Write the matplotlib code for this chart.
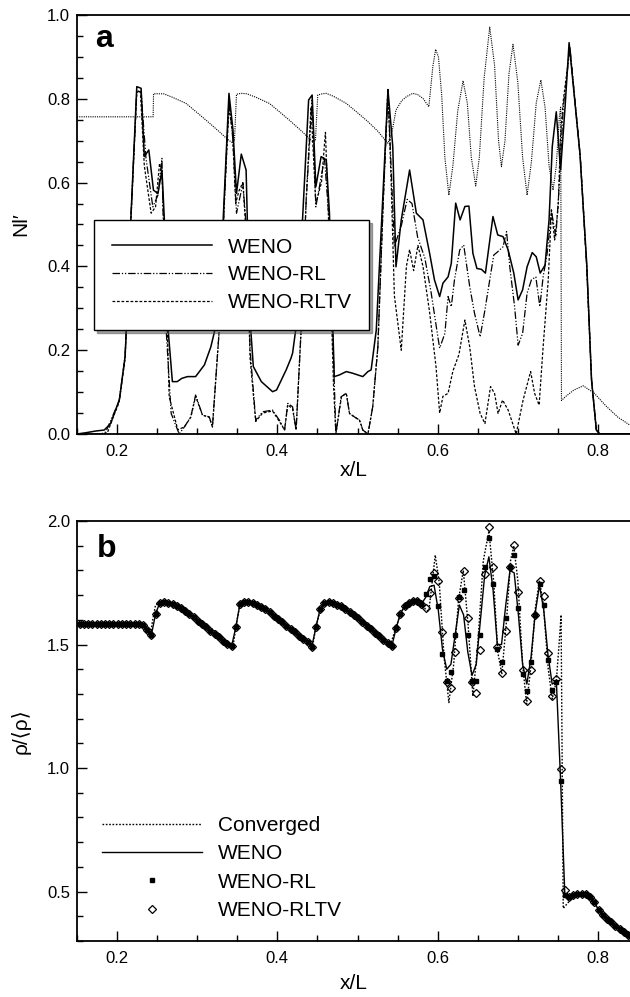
import matplotlib
matplotlib.use('Agg')
import matplotlib.pyplot as plt
import numpy as np
from matplotlib.ticker import MultipleLocator

plt.rcParams['font.family'] = ['Liberation Sans', 'DejaVu Sans']

# ---------------- panel a : Nl' ----------------
conv_a_x = [0.15, 0.245, 0.2455, 0.25, 0.258, 0.27, 0.286, 0.298, 0.311, 0.3275, 0.338, 0.344, 0.3465,
            0.349, 0.355, 0.362, 0.374, 0.39, 0.402, 0.415, 0.431, 0.441, 0.444, 0.4475,
            0.4504, 0.456, 0.461, 0.47, 0.486, 0.498, 0.511, 0.526, 0.535, 0.538,
            0.543, 0.548, 0.555, 0.561, 0.569, 0.575, 0.5817, 0.589, 0.594, 0.5975, 0.601, 0.605,
            0.609, 0.614, 0.619, 0.625, 0.6317, 0.637, 0.642, 0.6475, 0.652, 0.658, 0.665, 0.671,
            0.676, 0.6796, 0.684, 0.689, 0.694, 0.700, 0.706, 0.7116, 0.717, 0.723, 0.7288, 0.734,
            0.739, 0.744, 0.748, 0.752, 0.7535, 0.7545, 0.760, 0.770, 0.7817, 0.795, 0.811, 0.825, 0.84]
conv_a_y = [0.757, 0.757, 0.812, 0.812, 0.812, 0.803, 0.789, 0.770, 0.749, 0.7215, 0.703, 0.695, 0.70,
            0.811, 0.813, 0.812, 0.803, 0.789, 0.770, 0.749, 0.7215, 0.703, 0.698, 0.70,
            0.809, 0.812, 0.813, 0.806, 0.789, 0.770, 0.749, 0.7215, 0.70, 0.694,
            0.72, 0.773, 0.795, 0.805, 0.813, 0.81, 0.801, 0.781, 0.877, 0.918, 0.90, 0.81,
            0.66, 0.570, 0.64, 0.77, 0.843, 0.79, 0.66, 0.592, 0.66, 0.85, 0.971, 0.88,
            0.70, 0.638, 0.70, 0.86, 0.930, 0.84, 0.66, 0.570, 0.65, 0.79, 0.845, 0.78,
            0.64, 0.582, 0.64, 0.76, 0.78, 0.08, 0.09, 0.105, 0.115, 0.098, 0.065, 0.04, 0.021]

weno_a_x = [0.150, 0.161, 0.173, 0.184, 0.192, 0.203, 0.210, 0.2125, 0.2175, 0.2246, 0.230, 0.234,
            0.2396, 0.2454, 0.251, 0.256, 0.259, 0.2634, 0.269, 0.275, 0.281, 0.288, 0.298, 0.309,
            0.317, 0.323, 0.332, 0.3396, 0.3446, 0.349, 0.355, 0.361, 0.3654, 0.370, 0.380, 0.394,
            0.399, 0.411, 0.417, 0.419, 0.4234, 0.4316, 0.439, 0.4434, 0.448, 0.4546, 0.461, 0.465,
            0.471, 0.4775, 0.486, 0.494, 0.5066, 0.513, 0.517, 0.5234, 0.5316, 0.538, 0.544, 0.548,
            0.5546, 0.565, 0.5734, 0.5817, 0.590, 0.596, 0.6025, 0.6066, 0.613, 0.617, 0.6225,
            0.628, 0.634, 0.639, 0.644, 0.649, 0.6546, 0.6596, 0.669, 0.675, 0.6816, 0.688, 0.695,
            0.7004, 0.706, 0.7116, 0.718, 0.723, 0.728, 0.734, 0.739, 0.743, 0.748, 0.7534, 0.759,
            0.764, 0.7775, 0.786, 0.792, 0.798, 0.8025, 0.840]
weno_a_y = [0.0, 0.003, 0.007, 0.0095, 0.025, 0.083, 0.185, 0.288, 0.527, 0.829, 0.825, 0.662,
            0.678, 0.582, 0.574, 0.630, 0.511, 0.256, 0.125, 0.125, 0.133, 0.137, 0.137, 0.165,
            0.208, 0.256, 0.495, 0.813, 0.726, 0.574, 0.668, 0.630, 0.288, 0.161, 0.125, 0.101,
            0.105, 0.153, 0.181, 0.193, 0.256, 0.519, 0.797, 0.809, 0.590, 0.662, 0.654, 0.527,
            0.137, 0.141, 0.149, 0.145, 0.137, 0.149, 0.153, 0.248, 0.566, 0.821, 0.686, 0.399,
            0.511, 0.630, 0.527, 0.511, 0.431, 0.368, 0.328, 0.360, 0.375, 0.407, 0.551,
            0.511, 0.543, 0.544, 0.431, 0.395, 0.393, 0.384, 0.519, 0.475, 0.471, 0.439, 0.384,
            0.320, 0.344, 0.399, 0.433, 0.423, 0.384, 0.403, 0.511, 0.686, 0.769, 0.630, 0.781,
            0.934, 0.670, 0.407, 0.129, 0.0095, 0.0, 0.0]

rl_a_x = [0.150, 0.180, 0.186, 0.194, 0.2025, 0.210, 0.2175, 0.2246, 0.230, 0.236, 0.2446, 0.251,
          0.256, 0.260, 0.2675, 0.2775, 0.284, 0.292, 0.298, 0.3066, 0.315, 0.319, 0.3275, 0.334,
          0.3396, 0.3446, 0.349, 0.357, 0.361, 0.366, 0.373, 0.3816, 0.394, 0.4025, 0.409, 0.413,
          0.419, 0.4234, 0.4296, 0.436, 0.4434, 0.448, 0.4588, 0.465, 0.473, 0.4796, 0.486, 0.490,
          0.496, 0.5025, 0.5066, 0.513, 0.519, 0.5254, 0.532, 0.538, 0.546, 0.555, 0.562, 0.568,
          0.575, 0.584, 0.592, 0.6004, 0.6025, 0.609, 0.613, 0.617, 0.621, 0.6275, 0.6325, 0.640,
          0.646, 0.653, 0.659, 0.665, 0.670, 0.675, 0.6816, 0.686, 0.690, 0.696, 0.7004, 0.706,
          0.7116, 0.717, 0.7225, 0.7275, 0.7316, 0.7366, 0.742, 0.7475, 0.7516, 0.7567, 0.761,
          0.765, 0.778, 0.786, 0.792, 0.798, 0.802, 0.84]
rl_a_y = [0.0, 0.0, 0.005, 0.041, 0.078, 0.185, 0.527, 0.820, 0.815, 0.659, 0.542, 0.570,
          0.658, 0.288, 0.049, 0.0, 0.017, 0.041, 0.093, 0.045, 0.041, 0.017, 0.248, 0.560,
          0.800, 0.700, 0.527, 0.598, 0.50, 0.20, 0.033, 0.053, 0.057, 0.033, 0.0095, 0.073,
          0.065, 0.0095, 0.248, 0.56, 0.80, 0.542, 0.658, 0.50, 0.0, 0.089, 0.097, 0.049,
          0.041, 0.033, 0.0095, 0.0, 0.065, 0.208, 0.55, 0.82, 0.447, 0.50, 0.56, 0.55,
          0.47, 0.42, 0.336, 0.23, 0.205, 0.24, 0.328, 0.304, 0.368, 0.439, 0.451, 0.352,
          0.288, 0.232, 0.296, 0.368, 0.427, 0.435, 0.447, 0.483, 0.399, 0.304, 0.212, 0.240,
          0.336, 0.368, 0.375, 0.304, 0.375, 0.431, 0.531, 0.471, 0.590, 0.781, 0.85,
          0.925, 0.66, 0.40, 0.13, 0.01, 0.0, 0.0]

rltv_a_x = [0.150, 0.180, 0.188, 0.195, 0.2025, 0.210, 0.2175, 0.2246, 0.229, 0.234, 0.2425, 0.248,
            0.253, 0.256, 0.261, 0.265, 0.2758, 0.284, 0.292, 0.298, 0.3066, 0.315, 0.319, 0.3275,
            0.334, 0.3396, 0.344, 0.348, 0.352, 0.357, 0.362, 0.366, 0.373, 0.3816, 0.394, 0.4025,
            0.409, 0.413, 0.419, 0.4234, 0.4296, 0.436, 0.442, 0.448, 0.455, 0.460, 0.465, 0.470,
            0.473, 0.480, 0.486, 0.490, 0.496, 0.5025, 0.5066, 0.513, 0.519, 0.5254, 0.532, 0.538,
            0.542, 0.546, 0.5546, 0.561, 0.565, 0.570, 0.5754, 0.5817, 0.590, 0.598, 0.6025,
            0.6066, 0.613, 0.619, 0.6266, 0.634, 0.640, 0.646, 0.653, 0.659, 0.666, 0.671, 0.6754,
            0.681, 0.688, 0.698, 0.7066, 0.716, 0.721, 0.7266, 0.7316, 0.738, 0.742, 0.746,
            0.7504, 0.7534, 0.757, 0.765, 0.778, 0.786, 0.792, 0.798, 0.802, 0.84]
rltv_a_y = [0.0, 0.0, 0.003, 0.04, 0.075, 0.18, 0.52, 0.815, 0.82, 0.64, 0.527, 0.542,
            0.646, 0.62, 0.368, 0.089, 0.01, 0.017, 0.04, 0.09, 0.045, 0.04, 0.017, 0.25,
            0.56, 0.78, 0.72, 0.55, 0.58, 0.60, 0.45, 0.18, 0.03, 0.05, 0.055, 0.03,
            0.0095, 0.07, 0.06, 0.0095, 0.248, 0.56, 0.78, 0.55, 0.60, 0.72, 0.45, 0.12,
            0.0, 0.089, 0.097, 0.049, 0.041, 0.033, 0.0095, 0.0, 0.065, 0.208, 0.55, 0.825,
            0.60, 0.33, 0.20, 0.40, 0.44, 0.39, 0.45, 0.40, 0.29, 0.16, 0.05,
            0.09, 0.097, 0.15, 0.19, 0.272, 0.208, 0.113, 0.049, 0.025, 0.113, 0.097, 0.049,
            0.081, 0.057, 0.0, 0.081, 0.149, 0.097, 0.069, 0.208, 0.368, 0.535, 0.463,
            0.542, 0.717, 0.80, 0.92, 0.66, 0.40, 0.13, 0.01, 0.0, 0.0]

# ---------------- panel b : rho/<rho> ----------------
# grid of the scheme solutions (cell spacing 1/190)
grid_x0 = 0.1534
grid_dx = 1.0 / 190

rho_smooth = [1.585, 1.585, 1.585, 1.585, 1.585, 1.585, 1.585, 1.585, 1.585, 1.585,
              1.585, 1.585, 1.585, 1.584, 1.582, 1.578, 1.560,
              1.540, 1.625, 1.670, 1.672, 1.669, 1.663, 1.656, 1.647, 1.636, 1.623, 1.610,
              1.597, 1.583, 1.569, 1.555, 1.542, 1.529, 1.516, 1.504, 1.493,
              1.570, 1.665, 1.672, 1.671, 1.667, 1.660, 1.652, 1.642, 1.630, 1.617, 1.604,
              1.590, 1.576, 1.562, 1.549, 1.536, 1.523, 1.511, 1.490,
              1.570, 1.645, 1.670, 1.672, 1.668, 1.662, 1.654, 1.644, 1.633, 1.620, 1.606,
              1.592, 1.577, 1.562, 1.548, 1.534, 1.520, 1.505, 1.495,
              1.565, 1.625, 1.655, 1.670, 1.678, 1.675, 1.665]
rho_tail = [0.478, 0.485, 0.490, 0.492, 0.489, 0.477, 0.456, 0.427, 0.406, 0.391,
            0.377, 0.362, 0.350, 0.337, 0.325, 0.318]

rl_b_osc = [1.703, 1.767, 1.776, 1.654, 1.462, 1.354, 1.387, 1.537, 1.692, 1.719, 1.539,
            1.354, 1.354, 1.539, 1.814, 1.930, 1.743, 1.482, 1.428, 1.609, 1.814, 1.862,
            1.649, 1.381, 1.313, 1.428, 1.618, 1.743, 1.661, 1.438, 1.316, 1.347, 0.947, 0.488]
rltv_b_osc = [1.649, 1.709, 1.790, 1.756, 1.550, 1.347, 1.326, 1.469, 1.690, 1.798, 1.607,
              1.347, 1.305, 1.476, 1.785, 1.977, 1.813, 1.489, 1.383, 1.556, 1.813, 1.901,
              1.711, 1.397, 1.271, 1.397, 1.619, 1.757, 1.695, 1.465, 1.291, 1.360, 0.997, 0.508]
weno_b_osc = [1.690, 1.735, 1.740, 1.640, 1.480, 1.400, 1.420, 1.540, 1.660, 1.620, 1.470,
              1.375, 1.420, 1.600, 1.780, 1.855, 1.720, 1.500, 1.500, 1.660, 1.800, 1.790,
              1.620, 1.420, 1.340, 1.450, 1.630, 1.740, 1.640, 1.460, 1.340, 1.350, 0.950, 0.490]

conv_b_x = [0.15, 0.228, 0.236, 0.2415, 0.2445, 0.248, 0.2546, 0.265, 0.2775, 0.29, 0.3025,
            0.315, 0.3275, 0.34, 0.3445, 0.349, 0.3533, 0.358, 0.368, 0.38, 0.393, 0.405,
            0.418, 0.43, 0.44, 0.4435, 0.448, 0.4546, 0.463, 0.473, 0.485, 0.498, 0.51, 0.522,
            0.533, 0.5405, 0.548, 0.5546, 0.561, 0.569, 0.5796, 0.5855, 0.589, 0.592, 0.597,
            0.602, 0.608, 0.614, 0.620, 0.626, 0.632, 0.638, 0.644, 0.650, 0.657, 0.664, 0.670,
            0.675, 0.680, 0.686, 0.691, 0.695, 0.700, 0.706, 0.711, 0.716, 0.722, 0.727, 0.732,
            0.738, 0.743, 0.748, 0.7515, 0.754, 0.7567, 0.760, 0.768, 0.7817, 0.790, 0.8025,
            0.819, 0.84]
conv_b_y = [1.585, 1.585, 1.575, 1.54, 1.60, 1.66, 1.672, 1.668, 1.652, 1.624, 1.598,
            1.57, 1.543, 1.50, 1.49, 1.584, 1.665, 1.672, 1.667, 1.650, 1.62, 1.595,
            1.565, 1.535, 1.505, 1.485, 1.57, 1.652, 1.672, 1.665, 1.645, 1.615, 1.59, 1.56,
            1.53, 1.493, 1.57, 1.631, 1.665, 1.679, 1.665, 1.64, 1.635, 1.72, 1.862,
            1.75, 1.45, 1.265, 1.42, 1.68, 1.80, 1.58, 1.29, 1.50, 1.84, 1.96, 1.75,
            1.47, 1.38, 1.60, 1.84, 1.90, 1.76, 1.42, 1.26, 1.40, 1.65, 1.76, 1.66,
            1.40, 1.28, 1.35, 1.50, 1.62, 0.432, 0.445, 0.475, 0.492, 0.478, 0.419,
            0.371, 0.322]

rho_rl = rho_smooth + rl_b_osc + rho_tail
rho_rltv = rho_smooth + rltv_b_osc + rho_tail
rho_weno = rho_smooth + weno_b_osc + rho_tail
grid_x = grid_x0 + grid_dx * np.arange(len(rho_rl))

# ---------------- figure ----------------
fig = plt.figure(figsize=(6.3, 9.97), dpi=100)
ax_a = fig.add_axes([77 / 630, 1 - 434 / 997, 553 / 630, 419 / 997])
ax_b = fig.add_axes([77 / 630, 1 - 941 / 997, 553 / 630, 420 / 997])

ax_a.plot(conv_a_x, conv_a_y, color='black', lw=0.8, ls=(0, (1, 1)))
l1, = ax_a.plot(weno_a_x, weno_a_y, color='black', lw=1.1, ls='-', label='WENO')
l2, = ax_a.plot(rl_a_x, rl_a_y, color='black', lw=0.9, ls=(0, (6, 1.5, 1, 1.5, 1, 1.5)), label='WENO-RL')
l3, = ax_a.plot(rltv_a_x, rltv_a_y, color='black', lw=0.9, ls=(0, (2.2, 1.4)), label='WENO-RLTV')

leg = ax_a.legend(handles=[l1, l2, l3], loc='upper left', bbox_to_anchor=(0.031, 0.511),
                  borderaxespad=0, fontsize=15, handlelength=4.8, handletextpad=0.75,
                  labelspacing=0.42, borderpad=0.85, fancybox=False, shadow=True, framealpha=1)
leg.get_frame().set_edgecolor('black')
leg.get_frame().set_linewidth(1.0)

c_line, = ax_b.plot(conv_b_x, conv_b_y, color='black', lw=1.0, ls=(0, (1.2, 1.2)), label='Converged')
w_line, = ax_b.plot(grid_x, rho_weno, color='black', lw=1.0, ls='-', label='WENO')
d_pts, = ax_b.plot(grid_x, rho_rltv, ls='none', marker='D', ms=4.2, mfc='none', mec='black',
                   mew=0.9, label='WENO-RLTV')
s_pts, = ax_b.plot(grid_x, rho_rl, ls='none', marker='s', ms=3.3, mfc='black', mec='black',
                   label='WENO-RL')
ax_b.legend(handles=[c_line, w_line, s_pts, d_pts], loc='lower left', bbox_to_anchor=(0.045, 0.05),
            borderaxespad=0, borderpad=0, frameon=False, fontsize=15, handlelength=4.8,
            handletextpad=0.75, labelspacing=0.45)

for ax in (ax_a, ax_b):
    ax.set_xlim(0.15, 0.84)
    ax.xaxis.set_major_locator(MultipleLocator(0.2))
    ax.xaxis.set_minor_locator(MultipleLocator(0.05))
    ax.xaxis.set_major_formatter(plt.FuncFormatter(lambda v, p: f'{v:.1f}'))
    ax.yaxis.set_major_formatter(plt.FuncFormatter(lambda v, p: f'{v:.1f}'))
    ax.tick_params(which='both', direction='in', width=1.0, labelsize=12)
    ax.tick_params(which='major', length=7)
    ax.tick_params(which='minor', length=4)
    ax.tick_params(axis='x', pad=7)
    ax.tick_params(axis='y', pad=5)
    ax.spines['right'].set_visible(False)
    for s in ('left', 'bottom', 'top'):
        ax.spines[s].set_linewidth(1.3)

ax_a.set_xlabel('x/L', fontsize=15, labelpad=2)
ax_b.set_xlabel('x/L', fontsize=15, labelpad=6)

ax_a.set_ylim(0.0, 1.0)
ax_a.yaxis.set_major_locator(MultipleLocator(0.2))
ax_a.yaxis.set_minor_locator(MultipleLocator(0.05))
ax_a.set_ylabel('Nl\u2032', fontsize=15, labelpad=12)
ax_a.text(0.033, 0.924, 'a', transform=ax_a.transAxes, fontsize=23, fontweight='bold')

ax_b.set_ylim(0.3, 2.0)
ax_b.yaxis.set_major_locator(MultipleLocator(0.5))
ax_b.yaxis.set_minor_locator(MultipleLocator(0.1))
ax_b.set_ylabel('\u03c1/\u27e8\u03c1\u27e9', fontsize=15, labelpad=12)
ax_b.text(0.036, 0.914, 'b', transform=ax_b.transAxes, fontsize=23, fontweight='bold')

fig.savefig('out.png', dpi=100)
